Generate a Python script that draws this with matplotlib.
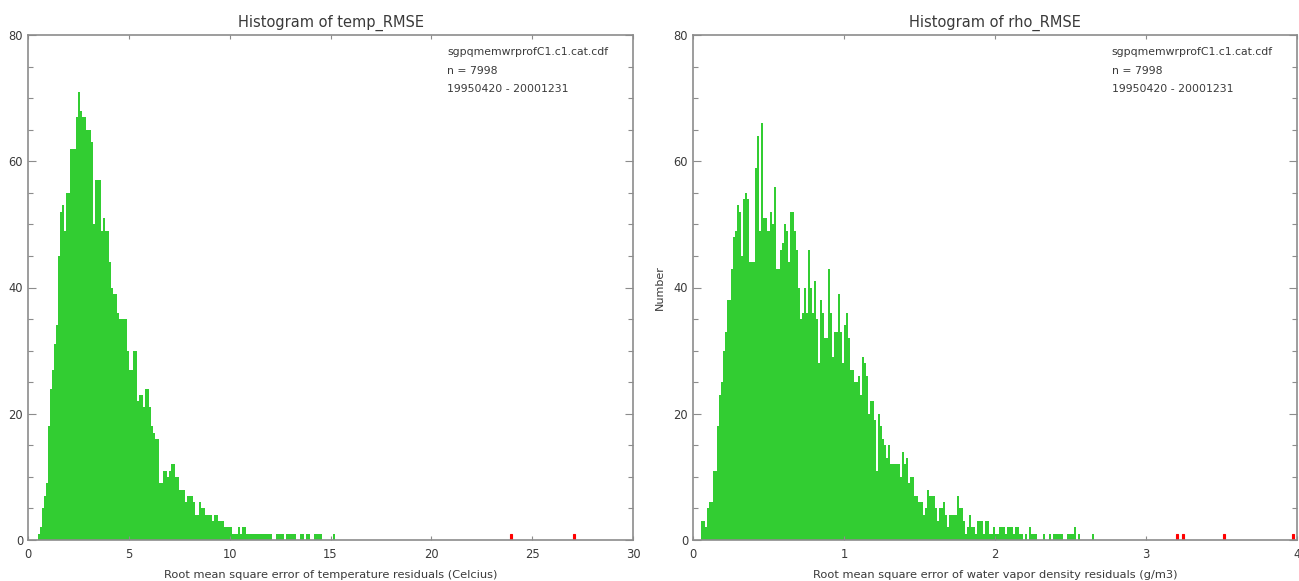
import numpy as np
import matplotlib
matplotlib.use("Agg")
import matplotlib.pyplot as plt
from matplotlib.ticker import MultipleLocator

GREEN = "#32cd32"
RED = "#ff0000"
TEXT = "#3a3a3a"
AXIS = "#8c8c8c"

# temp_RMSE histogram (bin width 0.1, first bin starts at 0.5)
temp_bin_width = 0.1
temp_first_bin = 0.5
temp_counts = [
    1, 2, 5, 7, 9, 18, 24, 27, 31, 34,
    45, 52, 53, 49, 55, 55, 62, 62, 62, 67,
    71, 68, 67, 67, 65, 65, 63, 50, 57, 57,
    57, 49, 51, 49, 49, 44, 40, 39, 39, 36,
    35, 35, 35, 35, 30, 27, 27, 30, 30, 22,
    23, 23, 21, 24, 24, 21, 18, 17, 16, 16,
    9, 9, 11, 11, 10, 11, 12, 12, 10, 10,
    8, 8, 8, 6, 7, 7, 7, 6, 4, 4,
    6, 5, 5, 4, 4, 4, 3, 4, 4, 3,
    3, 3, 2, 2, 2, 2, 1, 1, 1, 2,
    1, 2, 2, 1, 1, 1, 1, 1, 1, 1,
    1, 1, 1, 1, 1, 1, 0, 0, 1, 1,
    1, 1, 0, 1, 1, 1, 1, 1, 0, 0,
    1, 1, 0, 1, 1, 0, 0, 1, 1, 1,
    1, 0, 0, 0, 0, 0, 1,
]
temp_outliers = [23.9, 27.0]
temp_outlier_counts = [1, 1]

# rho_RMSE histogram (300 bins over 0-4)
rho_bin_width = 4 / 300
rho_first_bin = 0.0533
rho_counts = [
    3, 3, 2, 5, 6, 6, 11, 11, 18, 23,
    25, 30, 33, 38, 38, 43, 48, 49, 53, 52,
    45, 54, 55, 54, 44, 44, 44, 59, 64, 49,
    66, 51, 51, 49, 52, 50, 56, 43, 43, 46,
    47, 50, 49, 44, 52, 52, 49, 46, 40, 35,
    36, 40, 36, 46, 40, 36, 41, 35, 28, 38,
    36, 32, 32, 43, 36, 29, 33, 33, 39, 33,
    28, 34, 36, 32, 27, 27, 25, 25, 26, 23,
    29, 28, 26, 20, 22, 22, 19, 11, 20, 18,
    16, 15, 13, 15, 12, 12, 12, 12, 12, 10,
    14, 12, 13, 9, 10, 10, 7, 7, 6, 6,
    4, 5, 8, 7, 7, 7, 5, 3, 5, 5,
    6, 4, 2, 4, 4, 4, 4, 7, 5, 5,
    3, 1, 2, 4, 2, 2, 1, 3, 3, 3,
    1, 3, 3, 1, 1, 2, 1, 1, 2, 2,
    2, 1, 2, 2, 2, 1, 2, 2, 1, 1,
    0, 1, 0, 2, 1, 1, 1, 0, 0, 0,
    1, 0, 0, 1, 0, 1, 1, 1, 1, 1,
    0, 0, 1, 1, 1, 2, 0, 1, 0, 0,
    0, 0, 0, 0, 1,
]
rho_outliers = [3.20, 3.24, 3.51, 3.97]
rho_outlier_counts = [1, 1, 1, 1]

info_lines = ["sgpqmemwrprofC1.c1.cat.cdf", "n = 7998", "19950420 - 20001231"]

W, H = 1299, 581


def px_axes(fig, left, right, top, bottom):
    return fig.add_axes([left / W, 1 - bottom / H, (right - left) / W, (bottom - top) / H])


def draw_panel(ax, first, width, counts, out_x, out_n, xmax, xstep,
               title, xlabel, ylabel=None):
    edges = first + width * np.arange(len(counts) + 1)
    ax.stairs(counts, edges, fill=True, color=GREEN, linewidth=0.6)
    ax.bar(out_x, out_n, width=width, align="edge", color=RED,
           edgecolor=RED, linewidth=0.8)

    ax.set_xlim(0, xmax)
    ax.set_ylim(0, 80)
    ax.xaxis.set_major_locator(MultipleLocator(xstep))
    ax.yaxis.set_major_locator(MultipleLocator(20))
    ax.yaxis.set_minor_locator(MultipleLocator(5))

    ax.tick_params(axis="x", which="major", direction="in", top=True,
                   length=3, width=0.8, color=AXIS, labelsize=8.3,
                   labelcolor=TEXT, pad=6)
    ax.tick_params(axis="y", which="major", direction="in", right=True,
                   length=6, width=0.8, color=AXIS, labelsize=8.3,
                   labelcolor=TEXT, pad=3.5)
    ax.tick_params(axis="y", which="minor", direction="in", right=True,
                   length=3.6, width=0.8, color=AXIS)
    for sp in ax.spines.values():
        sp.set_color(AXIS)
        sp.set_linewidth(1.2)

    ax.set_title(title, fontsize=10.5, color=TEXT, pad=6)
    ax.set_xlabel(xlabel, fontsize=8.2, color=TEXT, labelpad=6)
    if ylabel:
        ax.set_ylabel(ylabel, fontsize=8, color=TEXT, labelpad=6)

    for k, line in enumerate(info_lines):
        ax.text(0.693, 0.966 - k * 0.0365, line, transform=ax.transAxes,
                fontsize=7.8, color=TEXT, va="center", ha="left")


fig = plt.figure(figsize=(W / 100, H / 100), dpi=100)
plt.rcParams["font.family"] = ["DejaVu Sans"]

ax1 = px_axes(fig, 28, 633, 35, 540)
draw_panel(ax1, temp_first_bin, temp_bin_width, temp_counts,
           temp_outliers, temp_outlier_counts, 30, 5,
           "Histogram of temp_RMSE",
           "Root mean square error of temperature residuals (Celcius)")

ax2 = px_axes(fig, 693, 1297, 35, 540)
draw_panel(ax2, rho_first_bin, rho_bin_width, rho_counts,
           rho_outliers, rho_outlier_counts, 4, 1,
           "Histogram of rho_RMSE",
           "Root mean square error of water vapor density residuals (g/m3)",
           ylabel="Number")

fig.savefig("out.png", dpi=100)
